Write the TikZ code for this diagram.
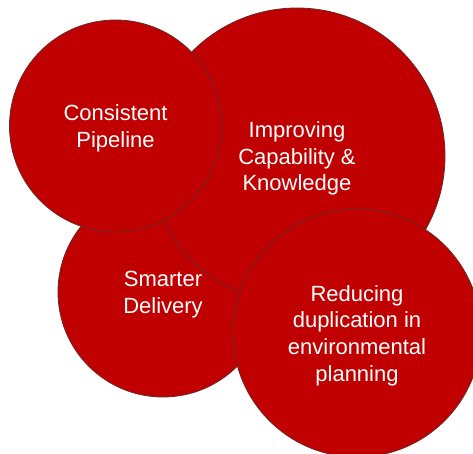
\documentclass[tikz,border=0pt]{standalone}
\usepackage{fontspec}
\setmainfont{Liberation Sans}
\definecolor{bubfill}{RGB}{192,0,0}
\definecolor{bubline}{RGB}{105,40,40}
\begin{document}
\begin{tikzpicture}[x=1pt,y=-1pt,
  bub/.style={circle,fill=bubfill,draw=bubline,line width=0.8pt,inner sep=0pt},
  bubtext/.style={label={[align=center,text=white,yshift=-2.5pt,
    font=\fontsize{22}{26.7}\selectfont]center:#1}}]
\useasboundingbox (0,0) rectangle (473,454);
\node[bub,minimum size=210pt,bubtext={Smarter\\Delivery}] (sd) at (163,292) {};
\node[bub,minimum size=296pt,bubtext={Improving\\Capability \&\\Knowledge}] (ic) at (297,156) {};
\node[bub,minimum size=212pt,bubtext={Consistent\\Pipeline}] (cp) at (115.5,126) {};
\node[bub,minimum size=248pt,bubtext={Reducing\\duplication in\\environmental\\planning}] (rd) at (357,333) {};
\end{tikzpicture}
\end{document}
